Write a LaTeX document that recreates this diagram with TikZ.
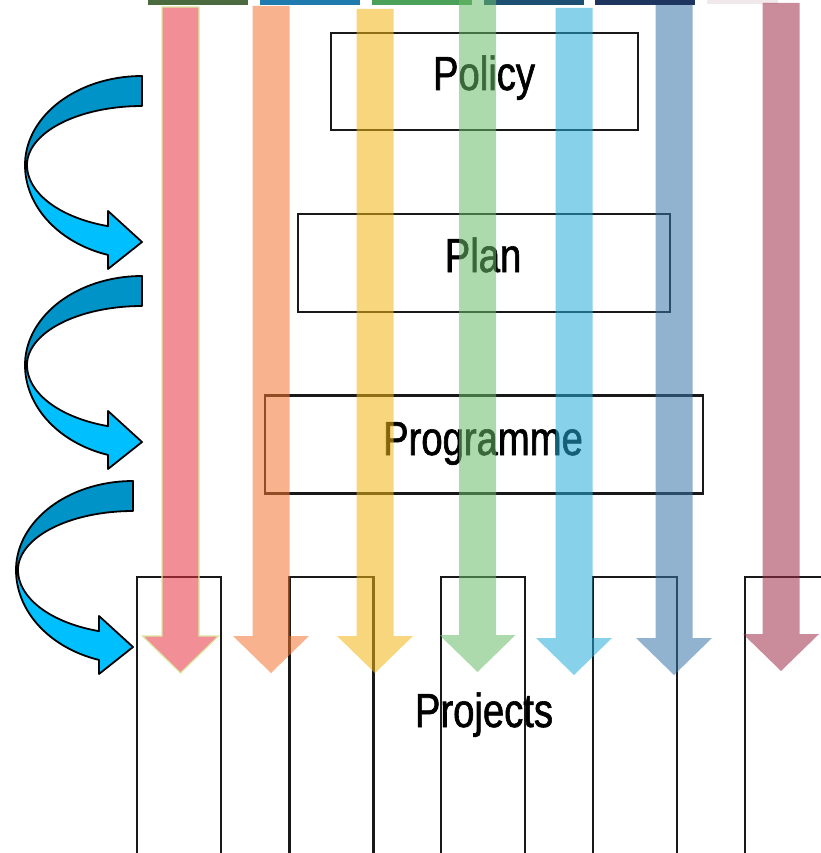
\documentclass[tikz,border=0pt]{standalone}
\usepackage{fontspec}
\setmainfont{Liberation Sans}[FakeStretch=0.8,FakeBold=1.3]
\definecolor{pinkC}{RGB}{231,50,64}
\definecolor{orangeC}{RGB}{244,118,50}
\definecolor{yellowC}{RGB}{242,182,20}
\definecolor{greenC}{RGB}{106,188,104}
\definecolor{lblueC}{RGB}{37,173,217}
\definecolor{steelC}{RGB}{57,118,168}
\definecolor{mauveC}{RGB}{160,46,72}
\definecolor{paleYG}{RGB}{220,232,160}
\definecolor{darkCyan}{RGB}{0,147,200}
\definecolor{brightCyan}{RGB}{0,191,255}
\definecolor{boxline}{RGB}{25,25,25}
\newcommand\vbararrow[4]{% x centre, top y, tip y, style
  \filldraw[#4] ({#1-18.5},{#2}) -- ({#1+18.5},{#2}) -- ({#1+18.5},{#3-37}) -- ({#1+38},{#3-37})
    -- ({#1},{#3}) -- ({#1-38},{#3-37}) -- ({#1-18.5},{#3-37}) -- cycle;}
\newcommand\uturnarrow[2]{% right x, top y
  \filldraw[uturndark] plot[domain=270:180,samples=40,variable=\t] ({#1+117*cos(\t)},{#2+89+89*sin(\t)})
    -- plot[domain=180:270,samples=40,variable=\t] ({#1+115*cos(\t)},{#2+89+59*sin(\t)}) -- cycle;
  \filldraw[uturnlight] plot[domain=180:106.9,samples=40,variable=\t] ({#1+117*cos(\t)},{#2+89+94*sin(\t)})
    -- ({#1-34},{#2+193}) -- ({#1},{#2+166}) -- ({#1-34},{#2+135})
    -- plot[domain=107.2:180,samples=40,variable=\t] ({#1+115*cos(\t)},{#2+89+64*sin(\t)}) -- cycle;}
\begin{document}
\begin{tikzpicture}[x=1pt,y=-1pt,
  box/.style={draw=boxline,line width=2.6pt,inner sep=0pt},
  lbl/.style={anchor=base,inner sep=0pt,text=black,font=\fontsize{47.8}{50}\selectfont},
  varrow/.style={fill=#1,fill opacity=0.55,draw=none},
  uturndark/.style={fill=darkCyan,draw=black,line width=1.8pt,line join=round},
  uturnlight/.style={fill=brightCyan,draw=black,line width=1.8pt,line join=round}]
\useasboundingbox (0,0) rectangle (820,853);
\fill[white] (0,0) rectangle (820,853);
% top strip
\fill[fill={rgb,255:red,75;green,107;blue,62}] (148,0) rectangle (248,5);
\fill[fill={rgb,255:red,31;green,122;blue,174}] (260,0) rectangle (360,5);
\fill[fill={rgb,255:red,76;green,161;blue,90}] (372,0) rectangle (472,5);
\fill[fill={rgb,255:red,29;green,79;blue,115}] (484,0) rectangle (584,5);
\fill[fill={rgb,255:red,30;green,53;blue,96}] (595,0) rectangle (695,5);
\fill[fill={rgb,255:red,240;green,232;blue,234}] (707,0) rectangle (778,4);
% boxes
\node[box,minimum width=307pt,minimum height=97pt] (policy) at (484.5,81.5) {};
\node[box,minimum width=372pt,minimum height=98pt] (plan) at (484,263) {};
\node[box,minimum width=438pt,minimum height=98pt] (programme) at (484,444.5) {};
\node[box,minimum width=84pt,minimum height=300pt] (pr1) at (179,727) {};
\node[box,minimum width=84pt,minimum height=300pt] (pr2) at (331.5,727) {};
\node[box,minimum width=84pt,minimum height=300pt] (pr3) at (483,727) {};
\node[box,minimum width=84pt,minimum height=300pt] (pr4) at (635,727) {};
\node[box,minimum width=84pt,minimum height=300pt] (pr5) at (787,727) {};
% labels
\node[lbl] (tpolicy) at (484,90) {Policy};
\node[lbl] (tplan) at (483,272) {Plan};
\node[lbl] (tprog) at (483,455) {Programme};
\node[lbl] (tproj) at (484,727) {Projects};
% vertical arrows
\vbararrow{180.5}{7}{673}{varrow=pinkC,draw=paleYG,line width=1.2pt}
\vbararrow{271}{6}{673}{varrow=orangeC}
\vbararrow{375}{9}{673}{varrow=yellowC}
\vbararrow{477.5}{0}{672}{varrow=greenC}
\vbararrow{574}{8}{675}{varrow=lblueC}
\vbararrow{674}{5}{675}{varrow=steelC}
\vbararrow{781}{3}{671}{varrow=mauveC}
% curved arrows
\uturnarrow{142}{76}
\uturnarrow{142}{276}
\uturnarrow{133}{481}
\end{tikzpicture}
\end{document}
